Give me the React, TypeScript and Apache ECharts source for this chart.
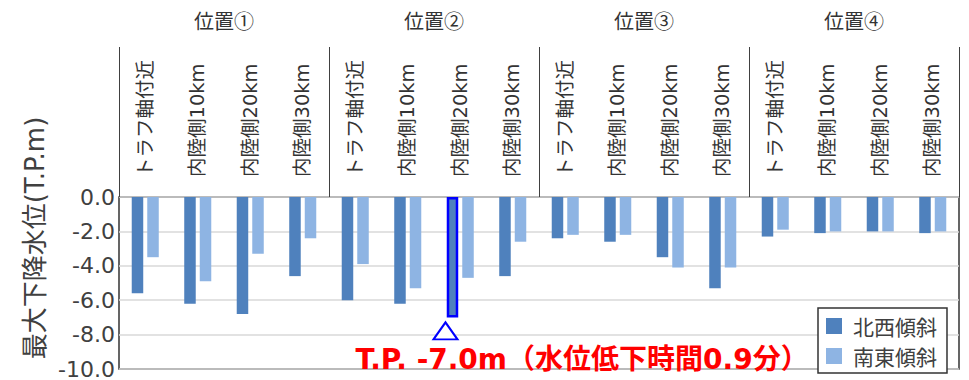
import React, { useEffect, useRef } from "react";
import * as echarts from "echarts";

const groups = ["位置①", "位置②", "位置③", "位置④"];
const subCats = ["トラフ軸付近", "内陸側10km", "内陸側20km", "内陸側30km"];
const categories = groups.flatMap(() => subCats);
const northwest = [-5.6, -6.2, -6.8, -4.6, -6.0, -6.2, -7.0, -4.6, -2.4, -2.6, -3.5, -5.3, -2.3, -2.1, -2.0, -2.1];
const southeast = [-3.5, -4.9, -3.3, -2.4, -3.9, -5.3, -4.7, -2.6, -2.2, -2.2, -4.1, -4.1, -1.9, -2.0, -2.0, -2.0];
const seriesNames = ["北西傾斜", "南東傾斜"];
const highlightIndex = 6;
const yTicks = { min: -10, max: 0, interval: 2 };
const yName = "最大下降水位(T.P.m)";
const noteText = "T.P. -7.0m（水位低下時間0.9分）";

const FONT = "'DejaVu Sans', 'Noto Sans CJK JP', sans-serif";
const CJK = "'Noto Sans CJK JP', 'DejaVu Sans', sans-serif";

export default function App() {
  const ref = useRef<HTMLDivElement>(null);
  useEffect(() => {
    if (!ref.current) return;
    const chart = echarts.init(ref.current, undefined, { renderer: "svg" });
    chart.setOption({
      animation: false,
      textStyle: { fontFamily: FONT },
      grid: {
        left: 119,
        top: 197,
        width: 840,
        height: 177.5,
        show: true,
        borderColor: "#333",
        borderWidth: 1.5,
        backgroundColor: "transparent",
      },
      legend: {
        data: seriesNames,
        orient: "vertical",
        left: 818,
        top: 308,
        icon: "rect",
        itemWidth: 16,
        itemHeight: 16,
        itemGap: 4,
        padding: [5, 10, 4, 8],
        backgroundColor: "#fff",
        borderColor: "#333",
        borderWidth: 1.5,
        textStyle: { fontSize: 21, color: "#404040", fontFamily: CJK, lineHeight: 26, padding: [0, 0, 0, 6] },
      },
      xAxis: [
        {
          type: "category",
          data: categories,
          position: "top",
          axisLine: { show: false, onZero: false },
          axisTick: { show: false },
          axisLabel: {
            rotate: -90,
            margin: 20,
            fontSize: 19.5,
            color: "#333",
            fontFamily: FONT,
            interval: 0,
          },
        },
        {
          type: "category",
          data: groups,
          position: "top",
          axisLine: { show: false, onZero: false },
          axisTick: { show: true, length: 150, lineStyle: { color: "#404040", width: 1 } },
          axisLabel: {
            margin: 177,
            verticalAlign: "middle",
            fontSize: 20,
            color: "#333",
            fontFamily: CJK,
            interval: 0,
          },
        },
      ],
      yAxis: {
        type: "value",
        min: yTicks.min,
        max: yTicks.max,
        interval: yTicks.interval,
        axisLine: { show: false },
        axisTick: { show: false },
        axisLabel: {
          formatter: (v: number) => v.toFixed(1),
          fontSize: 22,
          color: "#404040",
          margin: 4,
          fontFamily: FONT,
        },
        splitLine: { lineStyle: { color: "#d9d9d9", width: 1.5 } },
      },
      series: [
        {
          name: seriesNames[0],
          type: "bar",
          xAxisIndex: 0,
          barWidth: 11.5,
          barGap: "35%",
          itemStyle: { color: "#4f81bd" },
          data: northwest.map((v, i) =>
            i === highlightIndex
              ? { value: v, itemStyle: { borderColor: "#0000ff", borderWidth: 2.5 } }
              : v
          ),
          markPoint: {
            symbol: "triangle",
            symbolSize: [24, 17],
            symbolOffset: [-7, 13.5],
            itemStyle: { color: "#fff", borderColor: "#0000ff", borderWidth: 2 },
            label: { show: false },
            data: [{ coord: [highlightIndex, northwest[highlightIndex]] }],
          },
        },
        {
          name: seriesNames[1],
          type: "bar",
          xAxisIndex: 0,
          barWidth: 11.5,
          barGap: "35%",
          itemStyle: { color: "#8eb4e3" },
          data: southeast,
        },
      ],
      graphic: [
        {
          type: "text",
          x: 35,
          y: 238,
          rotation: Math.PI / 2,
          style: {
            text: yName,
            align: "center",
            verticalAlign: "middle",
            font: `26px ${FONT}`,
            fill: "#404040",
          },
        },
        {
          type: "text",
          x: 582,
          y: 359,
          z: 10,
          style: {
            text: noteText,
            align: "center",
            verticalAlign: "middle",
            font: `bold 28px ${FONT}`,
            fill: "#ff0000",
          },
        },
      ],
    });
    return () => chart.dispose();
  }, []);
  return (
    <div
      ref={ref}
      style={{ position: "absolute", left: 0, top: 0, width: 969, height: 380, background: "#fff" }}
    />
  );
}
